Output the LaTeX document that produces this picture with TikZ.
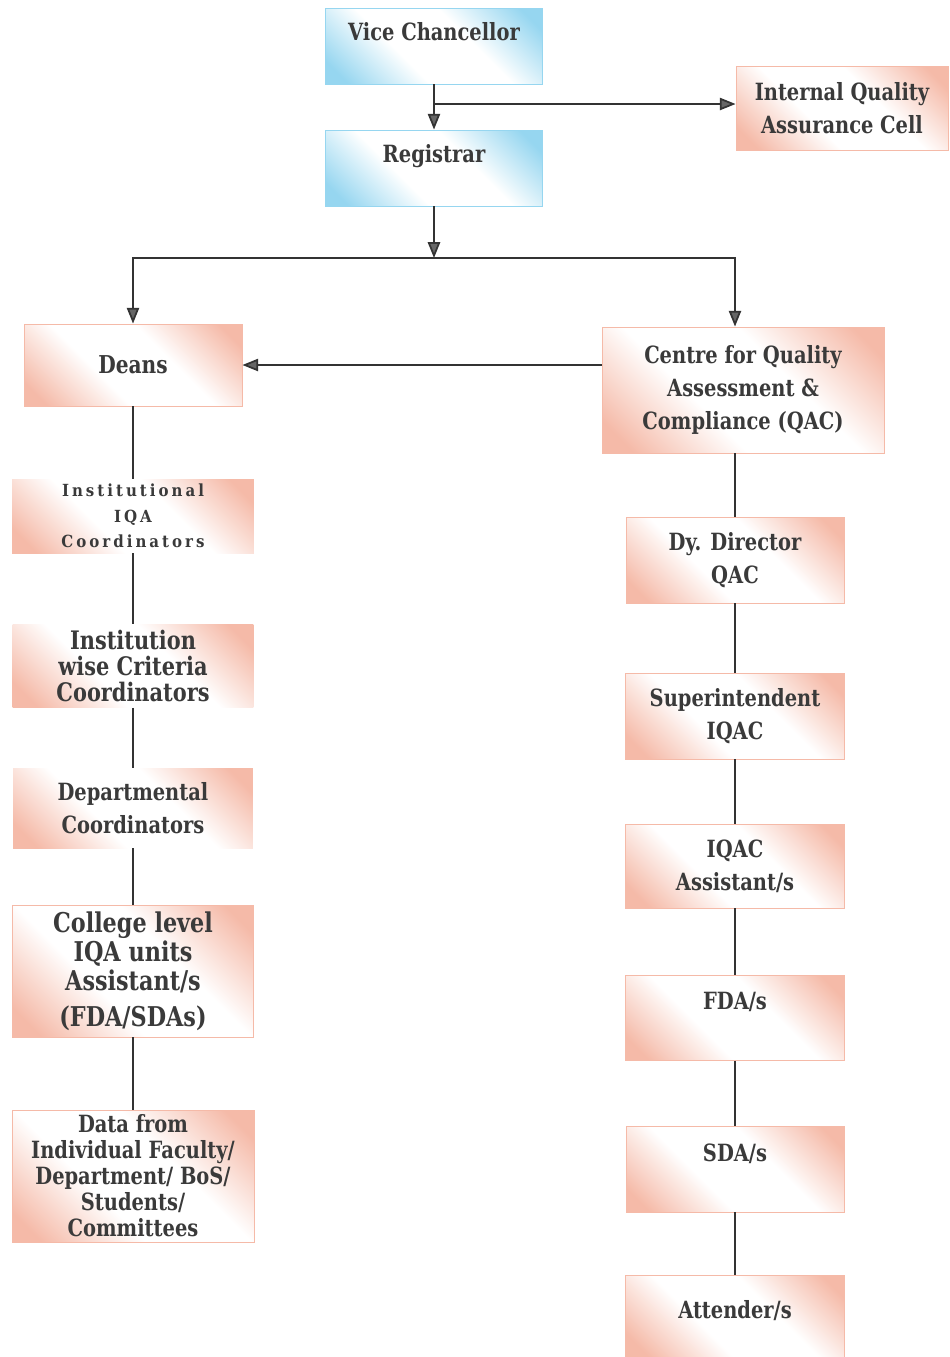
\documentclass[tikz,border=0pt]{standalone}
\usepackage{fontspec}
\setmainfont{DejaVu Serif}[FakeStretch=0.82]
\newfontfamily\widefont{DejaVu Serif}[FakeStretch=0.9, LetterSpace=18]
\usepackage{tikz}
\usetikzlibrary{arrows.meta}

\definecolor{peach}{RGB}{245,186,168}
\definecolor{sky}{RGB}{150,214,240}
\definecolor{ink}{RGB}{58,58,58}
\pgfdeclarehorizontalshading{peachfade}{100bp}{color(0bp)=(peach); color(20bp)=(peach); color(40bp)=(white); color(60bp)=(white); color(80bp)=(peach); color(100bp)=(peach)}
\pgfdeclarehorizontalshading{skyfade}{100bp}{color(0bp)=(sky); color(20bp)=(sky); color(40bp)=(white); color(60bp)=(white); color(80bp)=(sky); color(100bp)=(sky)}

\begin{document}
\begin{tikzpicture}[x=0.02cm, y=-0.02cm,
    box/.style={rectangle, draw=peach, line width=0.5pt, shade, shading=peachfade, shading angle=45,
        inner sep=0pt, text=ink, align=center, font=\fontsize{13.5}{19}\selectfont\bfseries},
    bluebox/.style={box, draw=sky, shading=skyfade},
    size/.style 2 args={minimum width=#1, minimum height=#2},
    raised/.style={text depth=#1},
    link/.style={line width=1pt, draw=black!80},
    arr/.style={link, -{Triangle[length=9pt, width=7pt, fill=black!60]}}]
\useasboundingbox (0,0) rectangle (950,1357);

% Top boxes
\node[bluebox, size={4.34cm}{1.52cm}, raised=16pt] (vc) at (434,46) {Vice Chancellor};
\node[bluebox, size={4.34cm}{1.52cm}, raised=16pt] (reg) at (434,168) {Registrar};
\node[box, size={4.24cm}{1.68cm}] (iqac) at (842,108) {Internal Quality\\Assurance Cell};

% Left column
\node[box, size={4.36cm}{1.64cm}, font=\fontsize{14}{19}\selectfont\bfseries] (deans) at (133,365) {Deans};
\node[box, draw=none, size={4.84cm}{1.48cm}, font=\widefont\fontsize{9.5}{14.5}\selectfont\bfseries] (iiqa) at (133,516) {Institutional\\IQA\\Coordinators};
\node[box, draw=none, size={4.82cm}{1.66cm}, font=\fontsize{14.5}{15}\selectfont\bfseries] (iwcc) at (133,666) {Institution\\wise Criteria\\Coordinators};
\node[box, draw=none, size={4.80cm}{1.60cm}] (dept) at (133,808) {Departmental\\Coordinators};
\node[box, size={4.82cm}{2.64cm}, font=\fontsize{15.5}{16.5}\selectfont\bfseries] (coll) at (133,971) {College level\\IQA units\\Assistant/s\\[4pt](FDA/SDAs)};
\node[box, size={4.84cm}{2.64cm}, font=\fontsize{13.5}{14.8}\selectfont\bfseries] (data) at (133,1176) {Data from\\Individual Faculty/\\Department/ BoS/\\Students/\\Committees};

% Right column
\node[box, size={5.64cm}{2.52cm}] (qac) at (743,390) {Centre for Quality\\Assessment \&\\Compliance (QAC)};
\node[box, size={4.36cm}{1.72cm}] (dy) at (735,560) {Dy. Director\\QAC};
\node[box, size={4.38cm}{1.72cm}] (sup) at (735,716) {Superintendent\\IQAC};
\node[box, size={4.38cm}{1.68cm}] (asst) at (735,866) {IQAC\\Assistant/s};
\node[box, size={4.38cm}{1.70cm}, raised=19pt] (fda) at (735,1018) {FDA/s};
\node[box, size={4.36cm}{1.72cm}, raised=19pt] (sda) at (735,1169) {SDA/s};
\node[box, size={4.38cm}{1.64cm}, raised=7pt] (att) at (735,1316) {Attender/s};

% Arrows
\coordinate (vcfork) at (434,104);
\coordinate (regfork) at (434,258);
\draw[arr] (vc) -- (reg);
\draw[arr] (vcfork) -- (vcfork -| iqac.west);
\draw[arr] (reg) -- (regfork);
\draw[arr] (regfork) -| (deans);
\draw[arr] (regfork) -| (dy.north |- qac.north);
\draw[arr] (qac.west |- deans) -- (deans.east);

% Lines
\draw[link] (deans) -- (iiqa);
\draw[link] (iiqa) -- (iwcc);
\draw[link] (iwcc) -- (dept);
\draw[link] (dept) -- (coll);
\draw[link] (coll) -- (data);

\draw[link] (dy.north |- qac.south) -- (dy);
\draw[link] (dy) -- (sup);
\draw[link] (sup) -- (asst);
\draw[link] (asst) -- (fda);
\draw[link] (fda) -- (sda);
\draw[link] (sda) -- (att);
\end{tikzpicture}
\end{document}
